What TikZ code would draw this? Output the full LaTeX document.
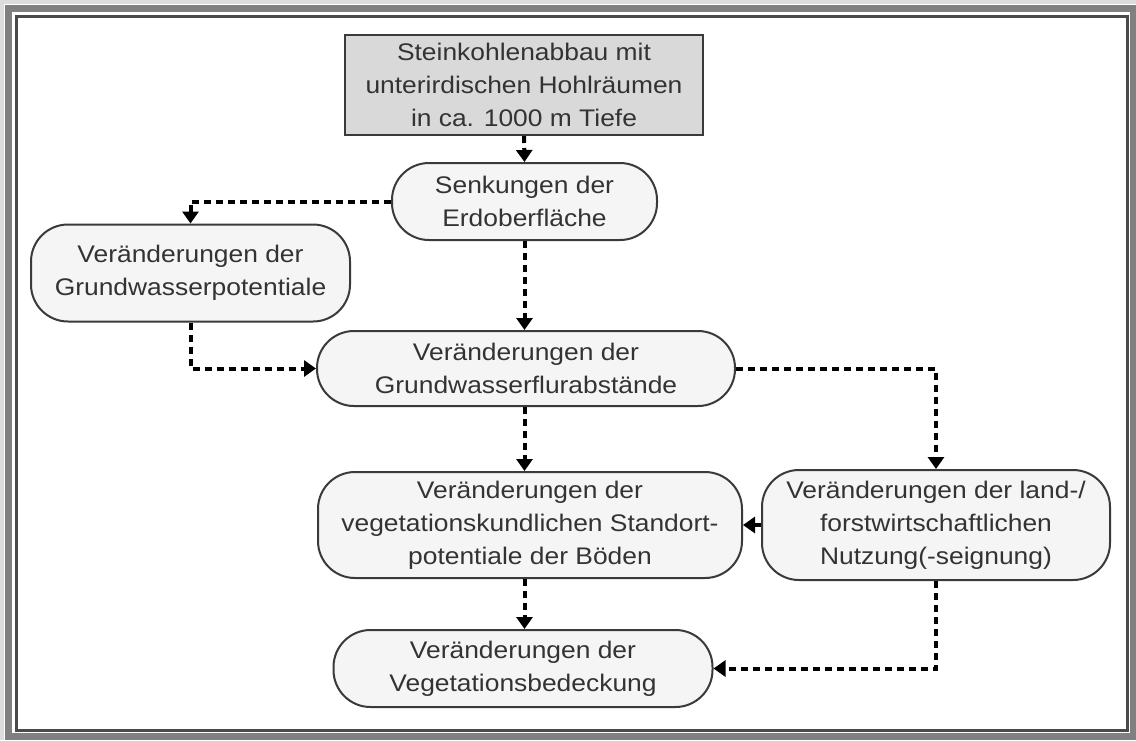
\documentclass[tikz,border=0pt]{standalone}
\usepackage{fontspec}
\setmainfont{Liberation Sans}[FakeStretch=1.1]
\usetikzlibrary{arrows.meta}
\definecolor{frameband}{HTML}{808080}
\definecolor{frameline}{HTML}{4A4A4A}
\definecolor{outerbg}{HTML}{DCDCDC}
\definecolor{boxline}{HTML}{3A3A3A}
\definecolor{boxtext}{HTML}{333333}
\definecolor{topfill}{HTML}{D9D9D9}
\definecolor{pillfill}{HTML}{F5F5F5}
\tikzset{
  basebox/.style={draw=boxline, line width=2pt, text=boxtext, align=center,
    inner sep=0pt, font=\fontsize{24}{33}\selectfont},
  topbox/.style={basebox, fill=topfill, rectangle},
  pill/.style={basebox, fill=pillfill, rounded corners=37pt},
  flow/.style={line width=4pt, dash pattern=on 7pt off 5pt, black,
    -{Triangle[width=16pt,length=12pt]}}
}
\begin{document}
\begin{tikzpicture}[x=1pt,y=-1pt]
\useasboundingbox (0,0) rectangle (1136,740);
% frame
\fill[outerbg] (0,0) rectangle (1136,740);
\fill[white] (4,4) rectangle (1136,740);
\draw[frameband, line width=7pt] (8,8) rectangle (1133,736.5);
\draw[frameline, line width=3pt] (16,16) rectangle (1127,730.5);
% nodes
\node[topbox, minimum width=358pt, minimum height=100pt] (top) at (524,85)
  {Steinkohlenabbau mit\\unterirdischen Hohlräumen\\in ca. 1000 m Tiefe};
\node[pill, minimum width=265pt, minimum height=77pt] (senk) at (524.5,201.5)
  {Senkungen der\\Erdoberfläche};
\node[pill, minimum width=319pt, minimum height=97pt] (gwp) at (190.5,273)
  {Veränderungen der\\Grundwasserpotentiale};
\node[pill, minimum width=418pt, minimum height=75pt] (gwf) at (526,368.5)
  {Veränderungen der\\Grundwasserflurabstände};
\node[pill, minimum width=424pt, minimum height=106pt] (stand) at (530,525)
  {Veränderungen der\\vegetationskundlichen Standort-\\potentiale der Böden};
\node[pill, minimum width=348pt, minimum height=110pt] (land) at (936,525)
  {Veränderungen der land-/\\forstwirtschaftlichen\\Nutzung(-seignung)};
\node[pill, minimum width=379pt, minimum height=77pt] (veg) at (523,668.5)
  {Veränderungen der\\Vegetationsbedeckung};
% connectors
\draw[flow] (top.south) -- (senk.north);
\draw[flow] (senk.west) -| (gwp.north);
\draw[flow] (senk.south) -- (senk.south |- gwf.north);
\draw[flow] (gwp.south) |- (gwf.west);
\draw[flow] (gwf.east) -| (land.north);
\draw[flow] (senk.south |- gwf.south) -- (senk.south |- stand.north);
\draw[flow] (land.west) -- (stand.east);
\draw[flow] (senk.south |- stand.south) -- (senk.south |- veg.north);
\draw[flow] (land.south) |- (veg.east);
\end{tikzpicture}
\end{document}
